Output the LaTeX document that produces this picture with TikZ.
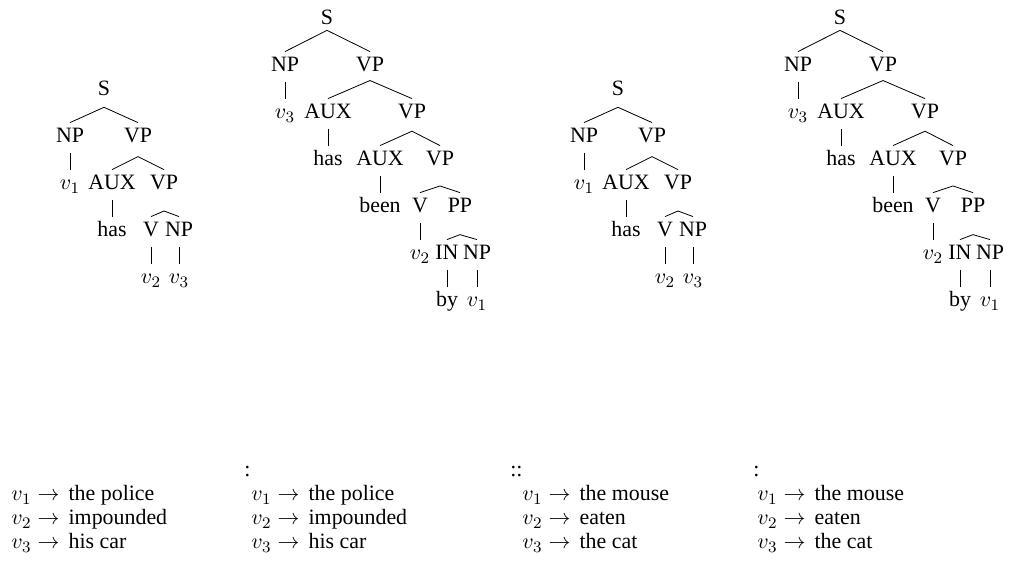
\documentclass[11pt,tikz,border=0pt]{standalone}
\usepackage{fontspec}
\setmainfont{Liberation Serif}
\usetikzlibrary{calc}

\tikzset{
  cat/.style={anchor=base, inner sep=0pt, text height=10pt, text depth=5pt},
  entry/.style={anchor=base west, inner sep=0pt},
}

% parent, left child, right child, slope
\newcommand{\treefork}[4]{%
  \draw let \p1=(#1.south), \p2=(#2.north), \p3=(#3.north) in
    (\p2) -- (\x1,{\y2+#4*(\x3-\x2)/2}) -- (\p3);}

% active tree
\newcommand{\shorttree}{%
  \node[cat] (s)   at (104,96)  {S};
  \node[cat] (np)  at (70,143)  {NP};
  \node[cat] (vp)  at (138,143) {VP};
  \node[cat] (va)  at (70,190)  {$v_1$};
  \node[cat] (aux) at (112,190) {AUX};
  \node[cat] (vpb) at (164,190) {VP};
  \node[cat] (has) at (112,237) {has};
  \node[cat] (v)   at (151,237) {V};
  \node[cat] (npb) at (179,237) {NP};
  \node[cat] (vb)  at (151,284) {$v_2$};
  \node[cat] (vc)  at (179,284) {$v_3$};
  \treefork{s}{np}{vp}{0.45}
  \treefork{vp}{aux}{vpb}{0.5}
  \treefork{vpb}{v}{npb}{0.4}
  \foreach \up/\dn in {np/va, aux/has, v/vb, npb/vc}
    \draw (\up.south) -- (\dn.north);
}

% passive tree
\newcommand{\longtree}{%
  \node[cat] (s)    at (327,25)  {S};
  \node[cat] (np)   at (285,72)  {NP};
  \node[cat] (vp)   at (370,72)  {VP};
  \node[cat] (vc)   at (285,119) {$v_3$};
  \node[cat] (aux)  at (328,119) {AUX};
  \node[cat] (vpb)  at (412,119) {VP};
  \node[cat] (has)  at (328,166) {has};
  \node[cat] (auxb) at (380,166) {AUX};
  \node[cat] (vpc)  at (440,166) {VP};
  \node[cat] (been) at (380,213) {been};
  \node[cat] (v)    at (420,213) {V};
  \node[cat] (pp)   at (460,213) {PP};
  \node[cat] (vb)   at (420,260) {$v_2$};
  \node[cat] (in)   at (447,260) {IN};
  \node[cat] (npb)  at (477,260) {NP};
  \node[cat] (by)   at (447,307) {by};
  \node[cat] (va)   at (477,307) {$v_1$};
  \treefork{s}{np}{vp}{0.5}
  \treefork{vp}{aux}{vpb}{0.43}
  \treefork{vpb}{auxb}{vpc}{0.48}
  \treefork{vpc}{v}{pp}{0.33}
  \treefork{pp}{in}{npb}{0.33}
  \foreach \up/\dn in {np/vc, aux/has, auxb/been, v/vb, in/by, npb/va}
    \draw (\up.south) -- (\dn.north);
}

\begin{document}
\begin{tikzpicture}[x=0.5pt, y=-0.5pt]
  \useasboundingbox (0,0) rectangle (1013,565);

  \begin{scope}[name prefix=a-]
    \shorttree
  \end{scope}
  \begin{scope}[name prefix=b-]
    \longtree
  \end{scope}
  \begin{scope}[shift={(514,0)}, name prefix=c-]
    \shorttree
  \end{scope}
  \begin{scope}[shift={(513,0)}, name prefix=d-]
    \longtree
  \end{scope}

  % the mappings
  \node[entry] (sep2) at (244,477) {:};
  \node[entry] (sep3) at (510,477) {::};
  \node[entry] (sep4) at (753,477) {:};
  \foreach \k/\xx/\wa/\wb/\wc in {1/11/the police/impounded/his car,
      2/251/the police/impounded/his car,
      3/522/the mouse/eaten/the cat,
      4/757/the mouse/eaten/the cat}{
    \node[entry] (m\k a) at (\xx,501) {$v_1 \rightarrow$\, \wa};
    \node[entry] (m\k b) at (\xx,525) {$v_2 \rightarrow$\, \wb};
    \node[entry] (m\k c) at (\xx,549) {$v_3 \rightarrow$\, \wc};
  }
\end{tikzpicture}
\end{document}
